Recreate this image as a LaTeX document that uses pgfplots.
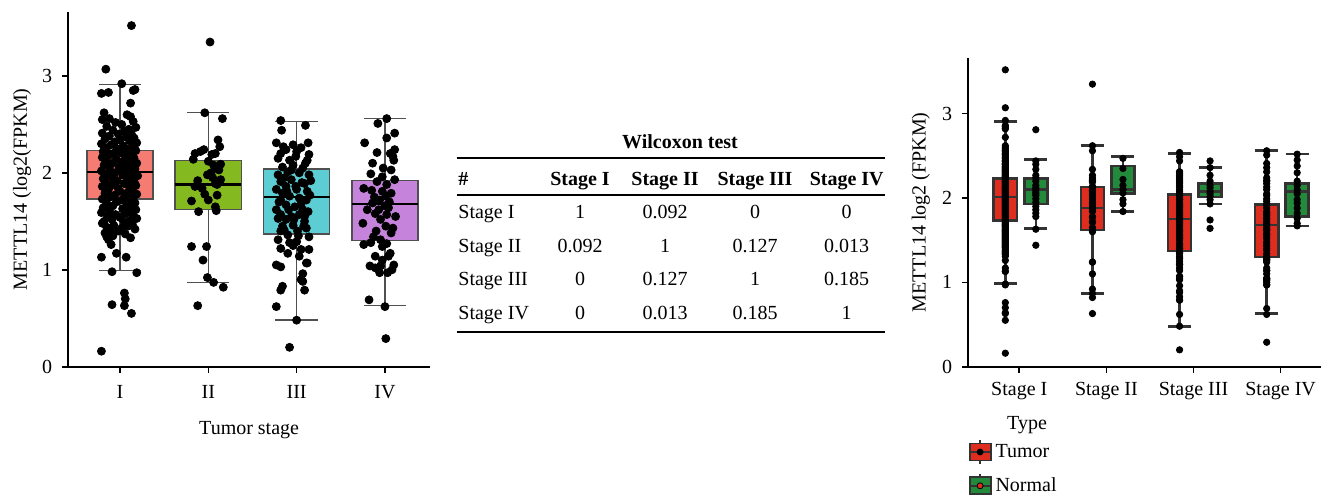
\documentclass[border=0pt]{standalone}
\usepackage{fontspec}
\setmainfont{Liberation Serif}
\usepackage{pgfplots}
\usepackage{pgfplotstable}
\pgfplotsset{compat=1.18}
\usepgfplotslibrary{statistics}

\definecolor{cI}{HTML}{F47C72}
\definecolor{cII}{HTML}{84B91F}
\definecolor{cIII}{HTML}{5CCDD3}
\definecolor{cIV}{HTML}{C683DB}
\definecolor{tred}{HTML}{DE2D1F}
\definecolor{ngreen}{HTML}{23893B}
\definecolor{bgray}{HTML}{505050}

% tumour samples per stage: jitter (dx) and value
\pgfplotstableread[row sep=\\]{
dx y\\
0.13 3.52\\ -0.16 3.07\\ 0.02 2.92\\ -0.21 2.82\\ -0.13 2.83\\ 0.15 2.85\\ 0.17 2.86\\ 0.12 2.72\\
-0.18 2.62\\ 0.08 2.60\\ 0.12 2.58\\ -0.12 2.56\\ -0.20 2.55\\ 0.15 2.53\\ -0.05 2.52\\ 0.02 2.50\\
-0.15 2.48\\ 0.18 2.47\\ 0.10 2.45\\ -0.08 2.44\\ 0.05 2.43\\ -0.20 2.41\\ 0.13 2.40\\ -0.02 2.40\\
-0.12 2.38\\ 0.07 2.37\\ 0.16 2.36\\ -0.17 2.35\\ 0.00 2.34\\ 0.11 2.33\\ -0.06 2.32\\ 0.19 2.31\\ -0.21 2.30\\
-0.10 2.29\\ 0.04 2.28\\ 0.14 2.27\\ -0.15 2.26\\ -0.03 2.25\\ 0.09 2.24\\ 0.18 2.23\\ -0.19 2.22\\ 0.01 2.21\\ -0.08 2.20\\
0.12 2.19\\ -0.13 2.18\\ 0.06 2.17\\ -0.20 2.16\\ 0.16 2.15\\ -0.04 2.14\\ 0.10 2.13\\ -0.16 2.12\\ 0.02 2.11\\ 0.19 2.10\\ -0.09 2.10\\
0.07 2.09\\ -0.18 2.08\\ 0.13 2.07\\ -0.01 2.06\\ -0.12 2.05\\ 0.17 2.04\\ 0.04 2.03\\ -0.21 2.02\\ 0.10 2.01\\ -0.06 2.00\\ 0.15 2.00\\
-0.14 1.99\\ 0.03 1.98\\ 0.20 1.97\\ -0.10 1.96\\ 0.08 1.95\\ -0.19 1.94\\ 0.12 1.93\\ -0.03 1.92\\ 0.16 1.91\\ -0.16 1.90\\
0.05 1.89\\ -0.08 1.88\\ 0.18 1.87\\ -0.20 1.86\\ 0.11 1.85\\ -0.02 1.84\\ -0.13 1.83\\ 0.14 1.82\\ 0.00 1.81\\ 0.09 1.80\\
-0.17 1.79\\ 0.19 1.78\\ -0.06 1.77\\ 0.06 1.76\\ -0.11 1.75\\ 0.15 1.74\\ -0.20 1.73\\ 0.02 1.72\\ 0.11 1.71\\ -0.04 1.70\\
0.17 1.69\\ -0.15 1.68\\ 0.08 1.67\\ -0.08 1.66\\ 0.13 1.65\\ -0.19 1.64\\ 0.03 1.63\\ 0.18 1.62\\ -0.12 1.61\\ 0.10 1.60\\
-0.21 1.59\\ 0.06 1.58\\ -0.05 1.57\\ 0.15 1.56\\ -0.14 1.55\\ 0.00 1.54\\ 0.19 1.53\\ -0.09 1.52\\ 0.11 1.51\\ -0.18 1.50\\
0.05 1.49\\ -0.20 1.48\\ 0.14 1.47\\ -0.07 1.46\\ 0.09 1.45\\ -0.15 1.44\\ 0.02 1.43\\ 0.17 1.42\\ -0.11 1.41\\ -0.02 1.40\\
-0.17 1.38\\ 0.06 1.37\\ -0.08 1.35\\ 0.12 1.33\\ -0.13 1.31\\ -0.15 1.34\\ -0.10 1.26\\
-0.21 1.13\\ -0.04 1.17\\ 0.07 1.13\\ -0.09 0.98\\ 0.19 0.97\\ 0.05 0.76\\ 0.06 0.70\\ -0.09 0.64\\ 0.05 0.63\\ 0.13 0.55\\ -0.21 0.16\\
}\stageI

\pgfplotstableread[row sep=\\]{
dx y\\
0.02 3.35\\ -0.04 2.62\\ 0.16 2.56\\ 0.11 2.34\\ 0.13 2.27\\ 0.08 2.20\\ 0.04 2.19\\ -0.15 2.20\\ -0.09 2.22\\ -0.05 2.24\\
-0.17 2.14\\ 0.00 2.12\\ 0.14 2.09\\ 0.08 2.05\\ 0.12 2.03\\ 0.03 2.00\\ -0.01 1.98\\ 0.14 1.93\\ -0.15 1.86\\ -0.07 1.84\\
0.08 1.89\\ -0.19 1.71\\ -0.11 1.60\\ 0.08 1.65\\ 0.10 1.77\\ 0.05 1.95\\ 0.10 1.88\\ -0.04 1.78\\ 0.00 1.72\\ -0.12 1.92\\
0.06 2.08\\ 0.09 1.61\\ -0.19 1.24\\ -0.02 1.24\\ -0.06 1.10\\ -0.01 0.92\\ 0.06 0.87\\ 0.17 0.82\\ -0.12 0.63\\
}\stageII

\pgfplotstableread[row sep=\\]{
dx y\\
-0.18 2.54\\ 0.10 2.49\\ -0.17 2.44\\ -0.23 2.31\\ -0.04 2.29\\ 0.13 2.31\\ -0.18 2.20\\ -0.12 2.24\\ 0.00 2.22\\ 0.14 2.19\\
-0.21 2.15\\ -0.08 2.13\\ 0.12 2.13\\ -0.16 2.06\\ -0.04 2.08\\ 0.07 2.05\\ -0.21 1.98\\ -0.10 2.01\\ 0.03 2.00\\ 0.14 1.98\\
-0.18 1.91\\ -0.06 1.93\\ 0.09 1.89\\ -0.12 1.86\\ -0.23 1.83\\ 0.00 1.83\\ 0.12 1.81\\ -0.16 1.79\\ -0.08 1.76\\ 0.03 1.74\\
-0.18 1.72\\ 0.11 1.72\\ -0.12 1.67\\ -0.02 1.65\\ -0.23 1.62\\ 0.07 1.62\\ -0.18 1.57\\ -0.06 1.55\\ 0.03 1.57\\ -0.12 1.52\\
-0.21 1.53\\ 0.09 1.50\\ -0.04 1.46\\ -0.16 1.45\\ 0.01 1.40\\ -0.10 1.36\\ 0.11 1.43\\ -0.18 1.40\\ -0.21 1.31\\ -0.08 1.28\\
0.00 1.29\\ 0.14 1.34\\ -0.18 1.22\\ -0.04 1.25\\ 0.05 1.21\\ -0.10 1.17\\ 0.14 1.21\\ 0.03 1.14\\ 0.11 1.07\\ -0.23 1.05\\
-0.18 1.03\\ 0.07 0.96\\ 0.12 1.07\\ 0.05 0.90\\ 0.07 0.88\\ -0.16 0.83\\ -0.18 0.79\\ 0.09 0.79\\ -0.23 0.62\\ 0.00 0.48\\ -0.08 0.20\\
-0.14 1.95\\ 0.06 1.90\\ -0.01 1.86\\ 0.15 1.77\\ -0.20 1.70\\ 0.05 1.68\\ -0.09 1.62\\ 0.13 1.60\\ -0.03 1.52\\ 0.08 1.45\\
-0.14 1.41\\ 0.02 1.35\\ -0.06 2.03\\ 0.10 2.10\\ -0.15 2.27\\ 0.05 2.26\\ -0.01 2.17\\ 0.16 1.92\\ -0.11 1.81\\ 0.09 1.55\\
}\stageIII

\pgfplotstableread[row sep=\\]{
dx y\\
0.02 2.56\\ -0.08 2.51\\ 0.11 2.41\\ 0.02 2.36\\ -0.23 2.31\\ 0.11 2.24\\ -0.09 2.21\\ 0.06 2.20\\ 0.09 2.17\\ 0.10 2.13\\
-0.14 2.10\\ 0.07 2.03\\ -0.16 1.99\\ -0.03 1.96\\ 0.11 1.93\\ -0.09 1.91\\ 0.02 1.88\\ -0.24 1.84\\ -0.15 1.82\\ -0.03 1.81\\
0.07 1.79\\ 0.01 1.76\\ -0.06 1.72\\ -0.14 1.69\\ 0.00 1.66\\ -0.20 1.62\\ 0.04 1.64\\ -0.11 1.58\\ 0.02 1.57\\ -0.25 1.48\\
-0.05 1.52\\ 0.01 1.45\\ 0.09 1.43\\ -0.13 1.34\\ 0.07 1.38\\ -0.24 1.26\\ -0.16 1.28\\ -0.05 1.31\\ -0.03 1.24\\ 0.02 1.27\\
0.06 1.17\\ 0.04 1.14\\ -0.11 1.14\\ -0.03 1.10\\ -0.17 1.04\\ -0.11 1.02\\ 0.03 0.97\\ 0.10 1.05\\ -0.05 1.04\\ -0.18 0.69\\
0.00 0.62\\ 0.01 0.29\\ -0.07 1.62\\ 0.05 1.70\\ -0.12 1.75\\ 0.12 1.55\\ -0.02 2.05\\ -0.10 1.40\\ 0.08 1.00\\ -0.06 0.97\\
}\stageIV

% normal samples per stage
\pgfplotstableread[row sep=\\]{
y\\ 2.81\\ 2.44\\ 2.40\\ 2.34\\ 2.27\\ 2.24\\ 2.20\\ 2.15\\ 2.12\\ 2.10\\ 2.07\\ 2.05\\ 2.03\\ 1.99\\ 1.95\\ 1.90\\ 1.86\\ 1.82\\ 1.78\\ 1.63\\ 1.44\\
}\normI
\pgfplotstableread[row sep=\\]{
y\\ 2.47\\ 2.35\\ 2.22\\ 2.15\\ 2.10\\ 2.06\\ 1.98\\ 1.93\\ 1.84\\
}\normII
\pgfplotstableread[row sep=\\]{
y\\ 2.44\\ 2.36\\ 2.27\\ 2.20\\ 2.15\\ 2.12\\ 2.08\\ 2.05\\ 2.02\\ 1.98\\ 1.93\\ 1.74\\ 1.64\\
}\normIII
\pgfplotstableread[row sep=\\]{
y\\ 2.52\\ 2.45\\ 2.38\\ 2.30\\ 2.20\\ 2.15\\ 2.10\\ 2.05\\ 1.98\\ 1.94\\ 1.88\\ 1.82\\ 1.76\\ 1.70\\ 1.67\\
}\normIV

\pgfplotsset{
  panel/.style={
    scale only axis, anchor=south west,
    ymin=0, ymax=3.66, xmin=0.415,
    axis x line*=bottom, axis y line*=left,
    axis line style={line width=1pt, -},
    xtick={1,2,3,4}, ytick={0,1,2,3},
    tick align=outside, major tick length=3pt,
    tick style={line width=0.8pt, black},
    /pgf/number format/assume math mode=true,
    yticklabel style={xshift=-1.5pt},
    label style={font=\fontsize{10.5}{12}\selectfont, text=black!85},
    every axis y label/.style={rotate=90, anchor=center},
    boxplot/draw direction=y,
    clip=false,
  },
}

\begin{document}
\begin{tikzpicture}
\useasboundingbox (0,0) rectangle (660.5pt,247pt);

% left panel
\begin{axis}[panel,
  at={(34.15pt,63.65pt)}, width=180.85pt, height=177.35pt, xmax=4.51,
  xticklabels={I,II,III,IV},
  xticklabel style={yshift=-3pt},
  xlabel={Tumor stage}, ylabel={METTL14 (log2(FPKM)},
  every axis x label/.style={at={(axis description cs:0.5,-0.179)}, anchor=center},
  every axis y label/.append style={at={(axis description cs:-0.128,0.5)}},
  boxplot/box extend=0.75, boxplot/whisker extend=0.48,
  boxplot/every median/.style={line width=1.1pt, black},
]
\addplot[boxplot prepared={draw position=1, lower whisker=0.99, lower quartile=1.73, median=2.01, upper quartile=2.23, upper whisker=2.91}, fill=cI, draw=bgray, line width=0.7pt] coordinates {};
\addplot[boxplot prepared={draw position=2, lower whisker=0.87, lower quartile=1.62, median=1.88, upper quartile=2.13, upper whisker=2.62}, fill=cII, draw=bgray, line width=0.7pt] coordinates {};
\addplot[boxplot prepared={draw position=3, lower whisker=0.48, lower quartile=1.37, median=1.75, upper quartile=2.04, upper whisker=2.53}, fill=cIII, draw=bgray, line width=0.7pt] coordinates {};
\addplot[boxplot prepared={draw position=4, lower whisker=0.63, lower quartile=1.30, median=1.68, upper quartile=1.92, upper whisker=2.56}, fill=cIV, draw=bgray, line width=0.7pt] coordinates {};
\addplot[only marks, mark=*, mark size=2pt, black] table[x expr=1+\thisrow{dx}, y=y] {\stageI};
\addplot[only marks, mark=*, mark size=2pt, black] table[x expr=2+\thisrow{dx}, y=y] {\stageII};
\addplot[only marks, mark=*, mark size=2pt, black] table[x expr=3+\thisrow{dx}, y=y] {\stageIII};
\addplot[only marks, mark=*, mark size=2pt, black] table[x expr=4+\thisrow{dx}, y=y] {\stageIV};
\end{axis}

% Wilcoxon table
\begin{scope}[every node/.style={inner sep=0pt}]
\node[anchor=base, font=\bfseries] at (340pt,172.85pt) {Wilcoxon test};
\draw[line width=1pt] (228.35pt,167.85pt) -- (442.5pt,167.85pt);
\node[anchor=base west, font=\bfseries] at (229pt,154.15pt) {\#};
\foreach \xx/\lab in {290/Stage I, 332.5/Stage II, 377.5/Stage III, 423.35/Stage IV}
  \node[anchor=base, font=\bfseries] at (\xx pt,154.15pt) {\lab};
\draw[line width=0.6pt] (228.35pt,149.5pt) -- (442.5pt,149.5pt);
\foreach \yy/\lab/\a/\b/\c/\d in {137.85/Stage I/1/0.092/0/0, 120.65/Stage II/0.092/1/0.127/0.013, 104.15/Stage III/0/0.127/1/0.185, 87.5/Stage IV/0/0.013/0.185/1}{
  \node[anchor=base west] at (229pt,\yy pt) {\lab};
  \node[anchor=base] at (290pt,\yy pt) {\a};
  \node[anchor=base] at (332.5pt,\yy pt) {\b};
  \node[anchor=base] at (377.5pt,\yy pt) {\c};
  \node[anchor=base] at (423.35pt,\yy pt) {\d};
}
\draw[line width=1pt] (228.35pt,80.85pt) -- (442.5pt,80.85pt);
\end{scope}

% right panel
\begin{axis}[panel,
  at={(484.15pt,63.65pt)}, width=176.2pt, height=154.35pt, xmax=4.46,
  xticklabels={Stage I,Stage II,Stage III,Stage IV},
  xticklabel style={yshift=-1pt},
  ylabel={METTL14 log2 (FPKM)},
  every axis y label/.append style={at={(axis description cs:-0.135,0.5)}},
  boxplot/box extend=0.265, boxplot/whisker extend=0.265,
  boxplot/every median/.style={line width=1.3pt, black!80},
  legend style={at={(axis description cs:0,0)}, anchor=north west, yshift=-36pt,
    draw=none, fill=none, inner sep=0pt, row sep=4pt},
  legend cell align=left,
]
\addplot[forget plot, boxplot prepared={draw position=0.84, lower whisker=0.99, lower quartile=1.73, median=2.01, upper quartile=2.23, upper whisker=2.91}, fill=tred, draw=black!80, line width=1.3pt] coordinates {};
\addplot[forget plot, boxplot prepared={draw position=1.84, lower whisker=0.87, lower quartile=1.62, median=1.88, upper quartile=2.13, upper whisker=2.62}, fill=tred, draw=black!80, line width=1.3pt] coordinates {};
\addplot[forget plot, boxplot prepared={draw position=2.84, lower whisker=0.48, lower quartile=1.37, median=1.75, upper quartile=2.04, upper whisker=2.53}, fill=tred, draw=black!80, line width=1.3pt] coordinates {};
\addplot[forget plot, boxplot prepared={draw position=3.84, lower whisker=0.63, lower quartile=1.30, median=1.68, upper quartile=1.92, upper whisker=2.56}, fill=tred, draw=black!80, line width=1.3pt] coordinates {};
\addplot[forget plot, boxplot prepared={draw position=1.19, lower whisker=1.64, lower quartile=1.93, median=2.10, upper quartile=2.23, upper whisker=2.46}, fill=ngreen, draw=black!80, line width=1.3pt] coordinates {};
\addplot[forget plot, boxplot prepared={draw position=2.19, lower whisker=1.84, lower quartile=2.05, median=2.10, upper quartile=2.38, upper whisker=2.49}, fill=ngreen, draw=black!80, line width=1.3pt] coordinates {};
\addplot[forget plot, boxplot prepared={draw position=3.19, lower whisker=1.93, lower quartile=2.01, median=2.08, upper quartile=2.17, upper whisker=2.36}, fill=ngreen, draw=black!80, line width=1.3pt] coordinates {};
\addplot[forget plot, boxplot prepared={draw position=4.19, lower whisker=1.67, lower quartile=1.78, median=2.08, upper quartile=2.17, upper whisker=2.52}, fill=ngreen, draw=black!80, line width=1.3pt] coordinates {};
\addplot[forget plot, only marks, mark=*, mark size=1.6pt, black] table[x expr=0.84, y=y] {\stageI};
\addplot[forget plot, only marks, mark=*, mark size=1.6pt, black] table[x expr=1.84, y=y] {\stageII};
\addplot[forget plot, only marks, mark=*, mark size=1.6pt, black] table[x expr=2.84, y=y] {\stageIII};
\addplot[forget plot, only marks, mark=*, mark size=1.6pt, black] table[x expr=3.84, y=y] {\stageIV};
\addplot[forget plot, only marks, mark=*, mark size=1.6pt, black] table[x expr=1.19, y=y] {\normI};
\addplot[forget plot, only marks, mark=*, mark size=1.6pt, black] table[x expr=2.19, y=y] {\normII};
\addplot[forget plot, only marks, mark=*, mark size=1.6pt, black] table[x expr=3.19, y=y] {\normIII};
\addplot[forget plot, only marks, mark=*, mark size=1.6pt, black] table[x expr=4.19, y=y] {\normIV};
\addlegendimage{legend image code/.code={
  \draw[line width=0.9pt, black!80] (5.25pt,-6pt) -- (5.25pt,6pt);
  \draw[line width=0.9pt, black!80, fill=tred] (0pt,-4.25pt) rectangle (10.5pt,4.25pt);
  \draw[line width=0.9pt, black!80] (0pt,0pt) -- (10.5pt,0pt);
  \fill[black] (5.25pt,0pt) circle (1.5pt);
}}
\addlegendentry{Tumor}
\addlegendimage{legend image code/.code={
  \draw[line width=0.9pt, black!80] (5.25pt,-6pt) -- (5.25pt,6pt);
  \draw[line width=0.9pt, black!80, fill=ngreen] (0pt,-4.25pt) rectangle (10.5pt,4.25pt);
  \draw[line width=0.9pt, black!80] (0pt,0pt) -- (10.5pt,0pt);
  \filldraw[fill=tred, draw=black] (5.25pt,0pt) circle (1.5pt);
}}
\addlegendentry{Normal}
\end{axis}
\node at (513.5pt,34.5pt) {Type};
\end{tikzpicture}
\end{document}
